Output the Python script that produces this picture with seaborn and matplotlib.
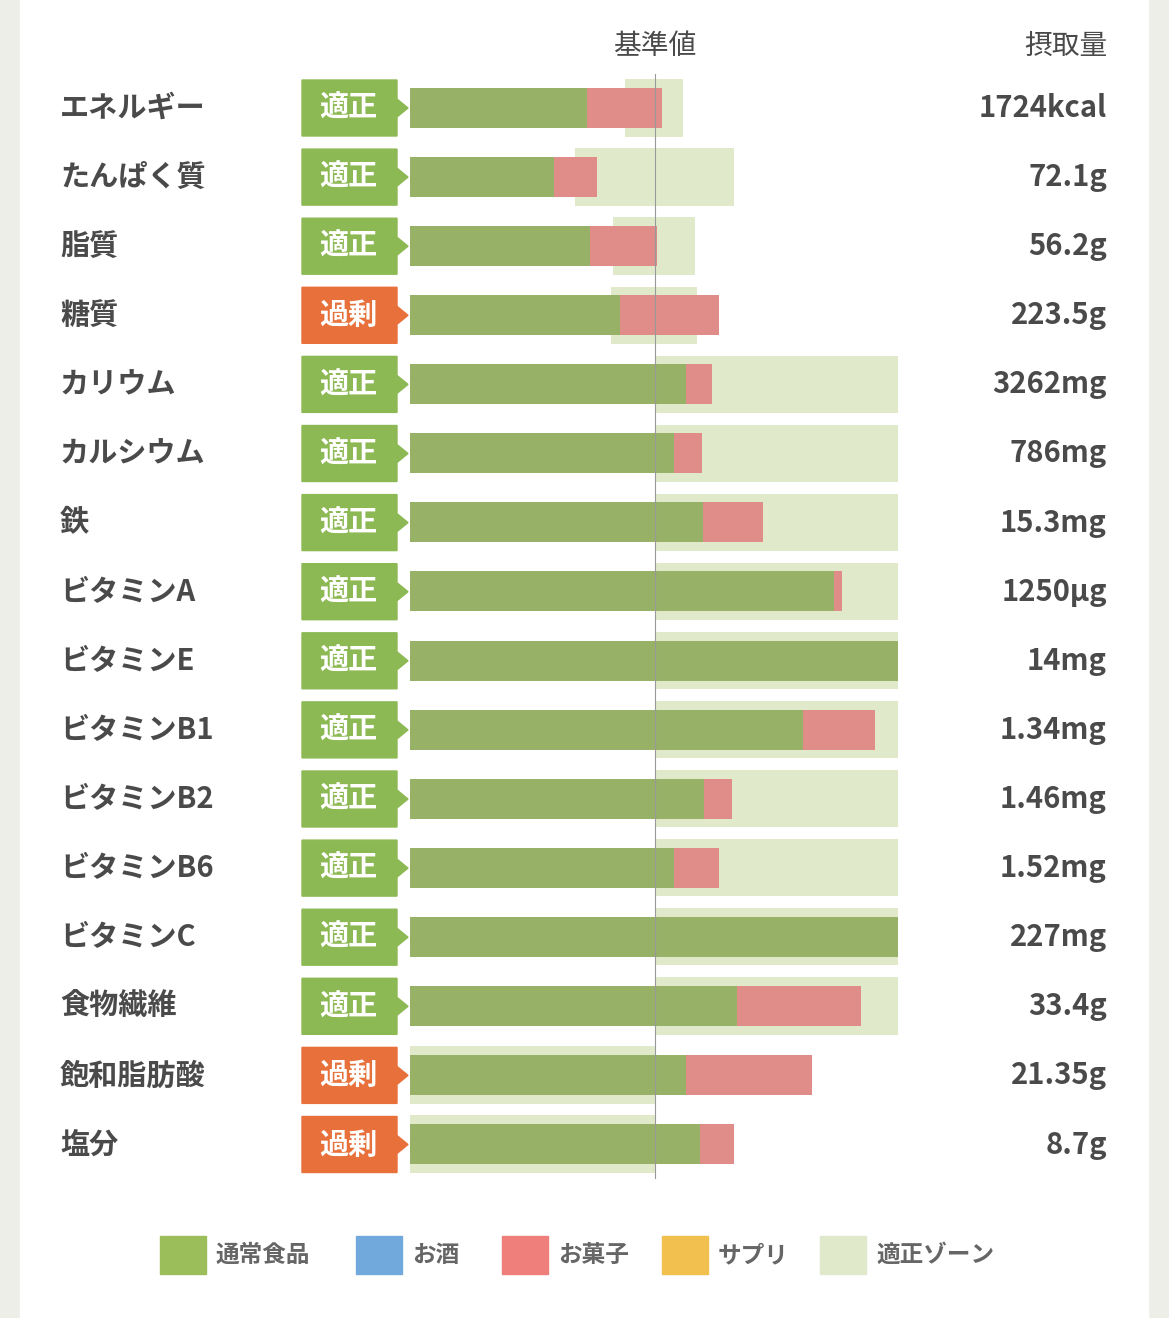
import numpy as np
import pandas as pd
import seaborn as sns
import matplotlib.pyplot as plt
from matplotlib.patches import Polygon, Rectangle

# data (percent of the standard value; 100 = 基準値)
nutrients = ["エネルギー", "たんぱく質", "脂質", "糖質", "カリウム", "カルシウム", "鉄",
             "ビタミンA", "ビタミンE", "ビタミンB1", "ビタミンB2", "ビタミンB6", "ビタミンC",
             "食物繊維", "飽和脂肪酸", "塩分"]
status = ["適正", "適正", "適正", "過剰", "適正", "適正", "適正", "適正", "適正", "適正",
          "適正", "適正", "適正", "適正", "過剰", "過剰"]
intake = ["1724kcal", "72.1g", "56.2g", "223.5g", "3262mg", "786mg", "15.3mg", "1250µg",
          "14mg", "1.34mg", "1.46mg", "1.52mg", "227mg", "33.4g", "21.35g", "8.7g"]
food = [72.2, 58.8, 73.5, 85.7, 112.7, 107.8, 119.6, 172.7, 199, 160.4, 120, 107.8, 199,
        133.5, 112.7, 118.4]
snack = [30.7, 17.5, 27.3, 40.4, 10.6, 11.4, 24.5, 3.6, 0, 29.4, 11.4, 18.3, 0, 50.6, 51.4, 13.8]
zone_lo = [87.8, 67.3, 82.9, 82.0, 100, 100, 100, 100, 100, 100, 100, 100, 100, 100, 0, 0]
zone_hi = [111.4, 132.2, 116.3, 117.1, 199, 199, 199, 199, 199, 199, 199, 199, 199, 199, 100, 100]

df = pd.DataFrame({"name": nutrients, "food": food, "snack": snack})
df["total"] = df["food"] + df["snack"]

GREEN, RED, ZONE = "#9BBD5A", "#EE7F7B", "#E0EACB"
TXT = "#4a4a4a"
W, H = 1169, 1318

plt.rcParams['font.family'] = ['Noto Sans CJK JP', 'DejaVu Sans']
fig = plt.figure(figsize=(W / 100, H / 100), dpi=100)
fig.patch.set_facecolor("#EEEEE8")

# overlay axes in pixel coordinates for layout items
ov = fig.add_axes([0, 0, 1, 1])
ov.set_xlim(0, W)
ov.set_ylim(H, 0)
ov.axis("off")
ov.add_patch(Rectangle((20, 0), 1128, H, color="white", zorder=0))

# bar axes
top, bot = 73.5, 1178.5
ax = fig.add_axes([410 / W, 1 - bot / H, (898 - 410) / W, (bot - top) / H])
ax.set_facecolor("none")
ypos = np.arange(len(nutrients))
ax.barh(ypos, np.array(zone_hi) - np.array(zone_lo), left=zone_lo, height=0.83, color=ZONE, zorder=1)
sns.barplot(data=df, y="name", x="total", orient="h", color=RED, width=0.58, ax=ax, zorder=2)
sns.barplot(data=df, y="name", x="food", orient="h", color=GREEN, width=0.58, ax=ax, zorder=3)
ax.axvline(100, color="#999999", lw=0.8, zorder=4)
ax.set_xlim(0, 199)
ax.set_ylim(len(nutrients) - 0.5, -0.5)
ax.axis("off")

ov.text(655, 46, "基準値", ha="center", va="center", fontsize=20, color=TXT)
ov.text(1107, 46, "摂取量", ha="right", va="center", fontsize=20, color=TXT)

for i, (n, s, v) in enumerate(zip(nutrients, status, intake)):
    y = 108 + 69.1 * i
    ov.text(60, y, n, ha="left", va="center", fontsize=21, fontweight="bold", color=TXT)
    ov.text(1107, y, v, ha="right", va="center", fontsize=21, fontweight="bold", color=TXT)
    c = "#8DB954" if s == "適正" else "#E8703A"
    ov.add_patch(Polygon([(302, y - 28), (397, y - 28), (397, y - 9), (408, y), (397, y + 9),
                          (397, y + 28), (302, y + 28)], closed=True, color=c, zorder=2))
    ov.text(348, y, s, ha="center", va="center", fontsize=21, fontweight="bold", color="white", zorder=3)

legend = [("通常食品", GREEN, 160), ("お酒", "#72A9DC", 356), ("お菓子", RED, 502),
          ("サプリ", "#F2C04E", 662), ("適正ゾーン", ZONE, 820)]
for lab, col, x in legend:
    ov.add_patch(Rectangle((x, 1236), 46, 38, color=col))
    ov.text(x + 56, 1255, lab, ha="left", va="center", fontsize=17, fontweight="bold", color="#666666")

fig.savefig("out.png", dpi=100)
